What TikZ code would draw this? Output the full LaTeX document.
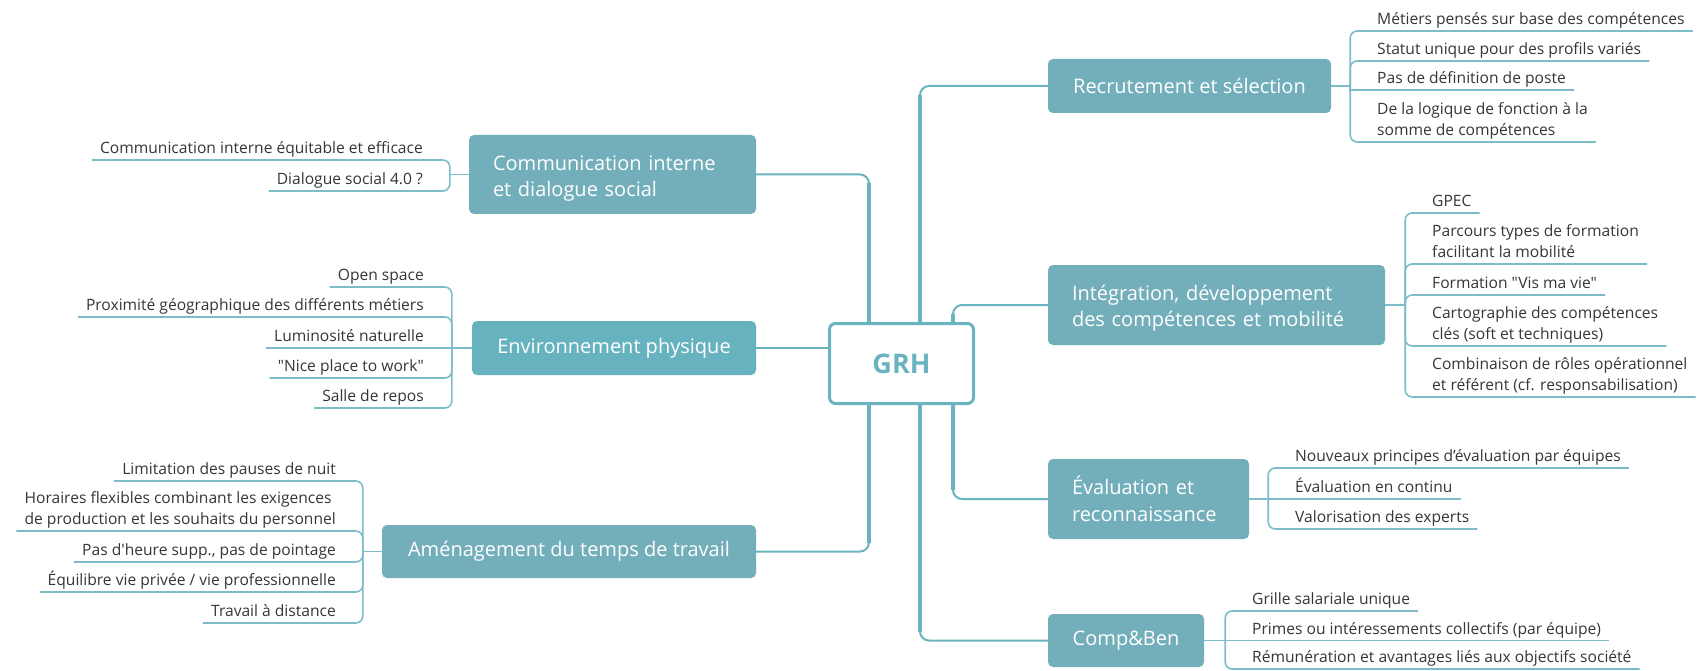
\documentclass[tikz,border=0pt]{standalone}
\usepackage{fontspec}
\setmainfont{Open Sans}[Ligatures=TeXOff]
\definecolor{boxc}{HTML}{73AEBB}
\definecolor{envc}{HTML}{66B3BF}
\definecolor{linec}{HTML}{6AB4C0}
\definecolor{subc}{HTML}{7DBDC9}
\definecolor{txtc}{HTML}{363636}
\begin{document}
\begin{tikzpicture}[x=1pt,y=-1pt,
  topic/.style={fill=boxc, rounded corners=5pt, text=white, font=\fontsize{20}{26.5}\selectfont, inner sep=0pt},
  sub/.style={text=txtc, font=\fontsize{15.6}{21}\selectfont, inner xsep=8pt, inner ysep=0pt, align=left},
  trunk/.style={draw=linec, line width=2pt, rounded corners=9pt},
  trunkthick/.style={draw=linec, line width=4pt, shorten >=9pt},
  subline/.style={draw=subc, line width=1.6pt, rounded corners=7pt},
]
\fill[white] (0,0) rectangle (1697,671);
\useasboundingbox (0,0) rectangle (1697,671);

% main topics
\node[topic, minimum width=283pt, minimum height=54pt] (rec) at (1189.5,86) {Recrutement et sélection};
\node[topic, minimum width=337pt, minimum height=80pt, text width=289pt, align=left] (integ) at (1216.5,305) {\rule{0pt}{22pt}Intégration, développement\\des compétences et mobilité};
\node[topic, minimum width=201pt, minimum height=80pt, text width=153pt, align=left] (eval) at (1148.5,499) {Évaluation et\\reconnaissance};
\node[topic, minimum width=156pt, minimum height=53pt] (comp) at (1126,640.5) {Comp\&Ben};
\node[topic, minimum width=287pt, minimum height=79pt, text width=239pt, align=left] (comm) at (612.5,174.5) {\rule{0pt}{23pt}Communication interne\\et dialogue social};
\node[topic, fill=envc, minimum width=284pt, minimum height=54pt] (env) at (614,348) {Environnement physique};
\node[topic, minimum width=374pt, minimum height=53pt] (amen) at (569,551.5) {Aménagement du temps de travail};

% central node
\node[draw=linec, line width=3pt, rounded corners=6pt, fill=white, minimum width=144pt, minimum height=80pt, text=linec, font=\fontsize{27}{32}\selectfont\bfseries] (grh) at (901.5,363.5) {GRH};

% trunk connectors
\draw[trunk] ([xshift=-32.5pt]grh.north) |- (comm.east);
\draw[trunkthick] ([xshift=-32.5pt]grh.north) -- ([xshift=-32.5pt]grh.north |- comm.east);
\draw[trunk] ([xshift=18.5pt]grh.north) |- (rec.west);
\draw[trunkthick] ([xshift=18.5pt]grh.north) -- ([xshift=18.5pt]grh.north |- rec.west);
\draw[trunk] ([xshift=51.5pt]grh.north) |- (integ.west);
\draw[trunkthick] ([xshift=51.5pt]grh.north) -- ([xshift=51.5pt]grh.north |- integ.west);
\draw[trunk] (env.east) -- (env.east -| grh.west);
\draw[trunk] ([xshift=-32.5pt]grh.south) |- (amen.east);
\draw[trunkthick] ([xshift=-32.5pt]grh.south) -- ([xshift=-32.5pt]grh.south |- amen.east);
\draw[trunk] ([xshift=51.5pt]grh.south) |- (eval.west);
\draw[trunkthick] ([xshift=51.5pt]grh.south) -- ([xshift=51.5pt]grh.south |- eval.west);
\draw[trunk] ([xshift=18.5pt]grh.south) |- (comp.west);
\draw[trunkthick] ([xshift=18.5pt]grh.south) -- ([xshift=18.5pt]grh.south |- comp.west);

% ---- Recrutement
\draw[subline] (rec.east) -- ++(19,0) coordinate (recb);
\node[sub, anchor=south west] (r1) at (1369,31) {\strut Métiers pensés sur base des compétences};
\node[sub, anchor=south west] (r2) at (1369,61) {\strut Statut unique pour des profils variés};
\node[sub, anchor=south west] (r3) at (1369,90) {\strut Pas de définition de poste};
\node[sub, anchor=south west] (r4) at (1369,142) {\strut De la logique de fonction à la\\\strut somme de compétences};
\draw[subline] (recb) |- (r1.south west) -- (r1.south east);
\draw[subline] (recb) |- (r2.south west) -- (r2.south east);
\draw[subline, sharp corners] (recb) |- (r3.south west) -- (r3.south east);
\draw[subline] (recb) |- (r4.south west) -- (r4.south east);

% ---- Integration
\draw[subline] (integ.east) -- ++(20,0) coordinate (integb);
\node[sub, anchor=south west] (i1) at (1424,213) {\strut GPEC};
\node[sub, anchor=south west] (i2) at (1424,264) {\strut Parcours types de formation\\\strut facilitant la mobilité};
\node[sub, anchor=south west] (i3) at (1424,295) {\strut Formation "Vis ma vie"};
\node[sub, anchor=south west] (i4) at (1424,346) {\strut Cartographie des compétences\\\strut clés (soft et techniques)};
\node[sub, anchor=south west] (i5) at (1424,397) {\strut Combinaison de rôles opérationnel\\\strut et référent (cf. responsabilisation)};
\draw[subline] (integb) |- (i1.south west) -- (i1.south east);
\draw[subline] (integb) |- (i2.south west) -- (i2.south east);
\draw[subline] (integb) |- (i3.south west) -- (i3.south east);
\draw[subline] (integb) |- (i4.south west) -- (i4.south east);
\draw[subline] (integb) |- (i5.south west) -- (i5.south east);

% ---- Evaluation
\draw[subline] (eval.east) -- ++(19,0) coordinate (evalb);
\node[sub, anchor=south west] (e1) at (1287,468) {\strut Nouveaux principes d’évaluation par équipes};
\node[sub, anchor=south west] (e2) at (1287,499) {\strut Évaluation en continu};
\node[sub, anchor=south west] (e3) at (1287,529) {\strut Valorisation des experts};
\draw[subline] (evalb) |- (e1.south west) -- (e1.south east);
\draw[subline] (evalb) -- (e2.south east);
\draw[subline] (evalb) |- (e3.south west) -- (e3.south east);

% ---- Comp&Ben
\draw[subline] (comp.east) -- ++(21,0) coordinate (compb);
\node[sub, anchor=south west] (p1) at (1244,611) {\strut Grille salariale unique};
\node[sub, anchor=south west] (p2) at (1244,640.5) {\strut Primes ou intéressements collectifs (par équipe)};
\node[sub, anchor=south west] (p3) at (1244,669) {\strut Rémunération et avantages liés aux objectifs société};
\draw[subline] (compb) |- (p1.south west) -- (p1.south east);
\draw[subline] (compb) -- (p2.south east);
\draw[subline] (compb) |- (p3.south west) -- (p3.south east);

% ---- Communication
\draw[subline] (comm.west) -- ++(-19,0) coordinate (commb);
\node[sub, anchor=south east] (c1) at (431,160) {\strut Communication interne équitable et efficace};
\node[sub, anchor=south east] (c2) at (431,191) {\strut Dialogue social 4.0 ?};
\draw[subline] (commb) |- (c1.south east) -- (c1.south west);
\draw[subline] (commb) |- (c2.south east) -- (c2.south west);

% ---- Environnement
\draw[subline] (env.west) -- ++(-20,0) coordinate (envb);
\node[sub, anchor=south east] (v1) at (432,287) {\strut Open space};
\node[sub, anchor=south east] (v2) at (432,317) {\strut Proximité géographique des différents métiers};
\node[sub, anchor=south east] (v3) at (432,348) {\strut Luminosité naturelle};
\node[sub, anchor=south east] (v4) at (432,378) {\strut "Nice place to work"};
\node[sub, anchor=south east] (v5) at (432,408) {\strut Salle de repos};
\draw[subline] (envb) |- (v1.south east) -- (v1.south west);
\draw[subline] (envb) |- (v2.south east) -- (v2.south west);
\draw[subline] (envb) -- (v3.south west);
\draw[subline] (envb) |- (v4.south east) -- (v4.south west);
\draw[subline] (envb) |- (v5.south east) -- (v5.south west);

% ---- Amenagement
\draw[subline] (amen.west) -- ++(-19,0) coordinate (amenb);
\node[sub, anchor=south east] (a1) at (344,481) {\strut Limitation des pauses de nuit};
\node[sub, anchor=south east] (a2) at (344,531) {\strut Horaires flexibles combinant les exigences\\\strut de production et les souhaits du personnel};
\node[sub, anchor=south east] (a3) at (344,562) {\strut Pas d'heure supp., pas de pointage};
\node[sub, anchor=south east] (a4) at (344,592) {\strut Équilibre vie privée / vie professionnelle};
\node[sub, anchor=south east] (a5) at (344,623) {\strut Travail à distance};
\draw[subline] (amenb) |- (a1.south east) -- (a1.south west);
\draw[subline] (amenb) |- (a2.south east) -- (a2.south west);
\draw[subline] (amenb) |- (a3.south east) -- (a3.south west);
\draw[subline] (amenb) |- (a4.south east) -- (a4.south west);
\draw[subline] (amenb) |- (a5.south east) -- (a5.south west);
\end{tikzpicture}
\end{document}
